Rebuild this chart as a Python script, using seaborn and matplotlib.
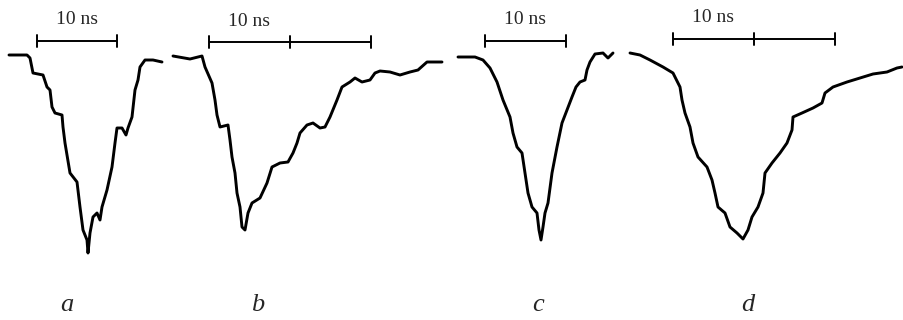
import numpy as np
import matplotlib.pyplot as plt
import pandas as pd
import seaborn as sns

# Oscillograms of four pulses (x: time axis, y: signal, screen units)
a_x = [9, 27, 30, 33, 43, 47, 50, 52, 55, 62, 63, 65, 70, 77, 80, 83, 87, 88, 90, 93,
       97, 100, 102, 107, 112, 115, 117, 122, 126, 128, 132, 135, 138, 140, 145, 153, 162]
a_y = [55, 55, 58, 73, 75, 87, 90, 107, 113, 115, 127, 143, 173, 182, 207, 230, 240, 253, 233, 217,
       213, 220, 207, 190, 167, 143, 128, 128, 135, 128, 117, 90, 80, 67, 60, 60, 62]

b_x = [173, 190, 202, 205, 212, 215, 217, 220, 228, 230, 232, 235, 237, 240, 242, 245, 248,
       252, 260, 267, 272, 280, 288, 293, 297, 300, 307, 313, 320, 325, 330, 337, 342, 350,
       355, 362, 370, 375, 380, 390, 400, 410, 418, 427, 442]
b_y = [56, 59, 56, 67, 83, 100, 115, 127, 125, 140, 157, 173, 193, 207, 227, 230, 213,
       203, 198, 183, 167, 163, 162, 153, 143, 133, 125, 123, 128, 127, 117, 100, 87, 82,
       78, 82, 80, 73, 71, 72, 75, 72, 70, 62, 62]

c_x = [458, 475, 483, 490, 497, 503, 510, 513, 517, 522, 525, 528, 532, 537, 539, 541, 543,
       545, 548, 552, 557, 562, 567, 572, 576, 580, 585, 587, 590, 595, 603, 608, 613]
c_y = [57, 57, 60, 68, 82, 100, 117, 133, 147, 153, 173, 193, 207, 213, 230, 240, 227,
       213, 203, 173, 147, 123, 110, 97, 87, 82, 80, 70, 62, 54, 53, 58, 53]

d_x = [630, 640, 650, 663, 673, 680, 682, 685, 690, 693, 698, 707, 712, 715, 718, 725, 730,
       737, 743, 748, 752, 758, 763, 765, 772, 780, 787, 792, 793, 802, 813, 822, 825, 833,
       847, 860, 873, 887, 897, 902]
d_y = [53, 55, 60, 67, 73, 87, 100, 113, 127, 143, 157, 167, 180, 193, 207, 213, 227,
       233, 239, 230, 217, 207, 193, 173, 163, 153, 143, 130, 117, 113, 108, 103, 93, 87,
       82, 78, 74, 72, 68, 67]

panel_labels = ["a", "b", "c", "d"]
label_x = [67, 258, 538, 748]

# 10 ns scale bars: tick positions and height
bar_ticks = [[37, 117], [209, 290, 371], [485, 566], [673, 754, 835]]
bar_y = [41, 42, 41, 39]
bar_text = "10 ns"

traces = {"a": (a_x, a_y), "b": (b_x, b_y), "c": (c_x, c_y), "d": (d_x, d_y)}
df = pd.concat([pd.DataFrame({"t": x, "v": y, "panel": k}) for k, (x, y) in traces.items()])

sns.set_style("white")
plt.rcParams["font.family"] = ["Liberation Serif", "DejaVu Serif"]

fig = plt.figure(figsize=(9.04, 3.2), dpi=100)
ax = fig.add_axes([0, 0, 1, 1])

for k in panel_labels:
    sns.lineplot(data=df[df.panel == k], x="t", y="v", sort=False, estimator=None,
                 color="black", linewidth=2.1, ax=ax, legend=False)

for ticks, y in zip(bar_ticks, bar_y):
    ax.plot([ticks[0], ticks[-1]], [y, y], color="black", lw=1.4, solid_capstyle="butt")
    for t in ticks:
        ax.plot([t, t], [y - 6, y + 6], color="black", lw=1.4)
    ax.text((ticks[0] + ticks[1]) / 2, y - 21, bar_text, ha="center", va="center", fontsize=14)

for lab, x in zip(panel_labels, label_x):
    ax.text(x, 305, lab, ha="center", va="center", fontsize=19, style="italic")

ax.set_xlim(0, 904)
ax.set_ylim(320, 0)
ax.axis("off")
fig.savefig("out.png", dpi=100)
